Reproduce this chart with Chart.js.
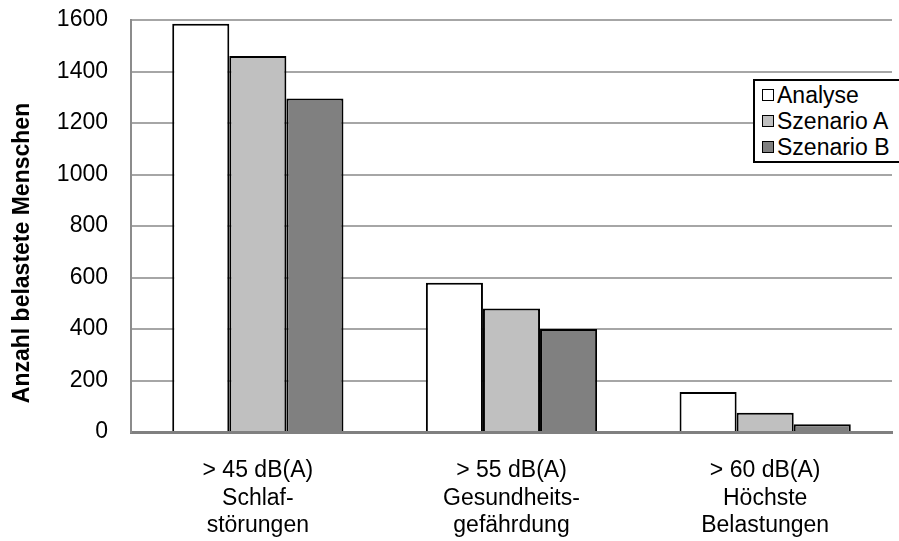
<!DOCTYPE html>
<html>
<head>
<meta charset="utf-8">
<script src="https://cdn.jsdelivr.net/npm/chart.js@4/dist/chart.umd.min.js"></script>
<style>
  body { margin: 0; overflow: hidden; background: #fff; }
  #wrap { position: relative; width: 899px; height: 541px; }
  #legend {
    position: absolute; left: 753px; top: 79px; width: 170px;
    border: 2px solid #000; background: #fff; padding: 1px 0 1px 7px;
    font-family: "Liberation Sans", Arial, sans-serif; font-size: 23px; color: #000;
  }
  #legend .row { height: 26px; display: flex; align-items: center; }
  #legend .box { width: 10px; height: 10px; border: 1.5px solid #000; margin-right: 3px; }
</style>
</head>
<body>
<div id="wrap">
  <canvas id="myChart" width="899" height="541"></canvas>
  <div id="legend"></div>
</div>
<script>
    // categories (multi line labels) and the three series
    const labels = [
        ["> 45 dB(A)", "Schlaf-", "störungen"],
        ["> 55 dB(A)", "Gesundheits-", "gefährdung"],
        ["> 60 dB(A)", "Höchste", "Belastungen"]
    ];
    const seriesNames = ["Analyse", "Szenario A", "Szenario B"];
    const analyse = [1585, 580, 155];
    const szenarioA = [1460, 480, 75];
    const szenarioB = [1295, 400, 30];
    const colors = ["#ffffff", "#c0c0c0", "#808080"];
    const yTitle = "Anzahl belastete Menschen";

    const font = "'Liberation Sans', Arial, sans-serif";

    // y axis title, placed like in the original (a bit below the middle)
    const yTitlePlugin = {
        id: 'yTitle',
        afterDraw(chart) {
            const ctx = chart.ctx;
            ctx.save();
            ctx.translate(23, 253);
            ctx.rotate(-Math.PI / 2);
            ctx.font = "bold 23px " + font;
            ctx.fillStyle = "#000";
            ctx.textAlign = "center";
            ctx.textBaseline = "middle";
            ctx.fillText(yTitle, 0, 0);
            ctx.restore();
        }
    };

    const ctx = document.getElementById('myChart').getContext('2d');
    const chart = new Chart(ctx, {
        type: 'bar',
        data: {
            labels: labels,
            datasets: [analyse, szenarioA, szenarioB].map((d, i) => ({
                label: seriesNames[i],
                data: d,
                backgroundColor: colors[i],
                borderColor: '#000',
                borderWidth: 2,
                categoryPercentage: 0.675,
                barPercentage: 1
            }))
        },
        options: {
            responsive: false,
            animation: false,
            devicePixelRatio: 1,
            layout: { padding: { top: 20, right: 7, left: 0, bottom: 0 } },
            plugins: {
                legend: { display: false },
                tooltip: { enabled: false }
            },
            scales: {
                x: {
                    grid: { display: false, drawTicks: false },
                    border: { color: '#808080', width: 3 },
                    ticks: {
                        color: '#000',
                        padding: 25,
                        maxRotation: 0,
                        font: { family: font, size: 23, lineHeight: 1.2 }
                    },
                    afterFit(scale) { scale.height = 109; }
                },
                y: {
                    min: 0,
                    max: 1600,
                    ticks: {
                        stepSize: 200,
                        color: '#000',
                        padding: 23,
                        font: { family: font, size: 23 },
                        callback: (v) => String(v)
                    },
                    grid: { color: '#a6a6a6', lineWidth: 2, drawTicks: false },
                    border: { color: '#8c8c8c', width: 2 },
                    afterFit(scale) {
                        scale.width = 131;
                        scale.paddingTop = 0;
                        scale.paddingBottom = 0;
                    }
                }
            }
        },
        plugins: [yTitlePlugin]
    });

    // legend box on the right, partly cut by the page edge
    const legend = document.getElementById('legend');
    seriesNames.forEach((name, i) => {
        const row = document.createElement('div');
        row.className = 'row';
        const box = document.createElement('span');
        box.className = 'box';
        box.style.background = colors[i];
        row.appendChild(box);
        row.appendChild(document.createTextNode(name));
        legend.appendChild(row);
    });
</script>
</body>
</html>
